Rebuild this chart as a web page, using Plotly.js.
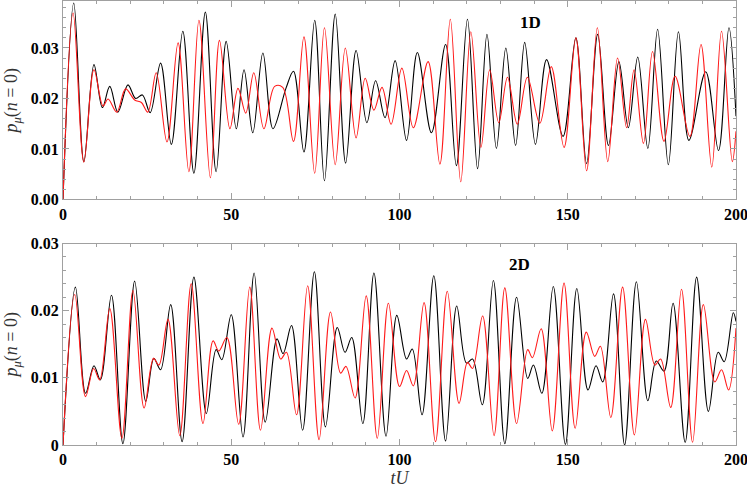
<!DOCTYPE html>
<html><head><meta charset="utf-8">
<script src="https://cdn.plot.ly/plotly-3.0.1.min.js"></script>
<style>html,body{margin:0;padding:0;background:#fff}</style>
</head><body><div id="chart" style="width:747px;height:500px"></div>
<script>
// ---- 1D panel ----
const t1DBlack = [0,3.2,6.2,9.2,11.7,13.9,16.3,19.3,21.6,23.6,25.9,29.0,32.2,35.6,38.9,42.3,45.5,48.5,51.5,53.8,56.4,59.4,62.4,66.3,68.5,71.6,74.8,77.7,80.9,84.0,87.1,90.3,92.9,95.7,98.7,102.1,105.3,109.5,113.7,116.9,120.2,123.2,126.0,128.8,131.6,134.5,137.2,140.4,143.7,148.6,152.4,155.6,158.9,162.1,165.2,168.0,170.8,173.8,176.7,179.9,182.9,186.0,191.0,194.8,197.9,200];
const p1DBlack = [0,0.0389,0.0075,0.0267,0.0182,0.0224,0.0173,0.0227,0.0200,0.0207,0.0172,0.0270,0.0109,0.0333,0.0052,0.0371,0.0055,0.0313,0.0140,0.0257,0.0132,0.0290,0.0140,0.0221,0.0254,0.0094,0.0355,0.0037,0.0367,0.0072,0.0295,0.0152,0.0235,0.0162,0.0275,0.0117,0.0291,0.0132,0.0307,0.0067,0.0357,0.0061,0.0327,0.0101,0.0300,0.0107,0.0311,0.0109,0.0277,0.0125,0.0320,0.0071,0.0327,0.0107,0.0273,0.0142,0.0282,0.0101,0.0337,0.0069,0.0332,0.0117,0.0253,0.0097,0.0340,0.0165];
const t1DRed = [0,3.0,6.2,9.2,11.9,13.4,16.0,18.6,21.3,23.3,25.2,27.7,30.9,34.2,37.4,40.4,43.8,46.5,49.6,52.0,54.3,56.7,59.7,62.9,65.3,68.5,71.6,74.8,77.7,80.9,83.9,87.1,89.8,92.4,94.8,97.5,100.7,104.1,108.5,112.0,115.1,118.2,121.2,124.2,126.8,129.5,132.1,135.0,138.0,141.7,145.1,148.9,152.4,155.6,158.8,161.9,164.8,167.5,169.7,172.5,175.2,178.6,181.9,186.3,189.6,192.8,195.7,198.9,200];
const p1DRed = [0,0.0369,0.0074,0.0257,0.0185,0.0199,0.0173,0.0219,0.0197,0.0192,0.0173,0.0251,0.0114,0.0310,0.0055,0.0355,0.0043,0.0315,0.0140,0.0220,0.0171,0.0251,0.0140,0.0224,0.0222,0.0115,0.0322,0.0052,0.0340,0.0069,0.0300,0.0122,0.0240,0.0177,0.0222,0.0149,0.0260,0.0142,0.0273,0.0070,0.0357,0.0035,0.0332,0.0103,0.0257,0.0152,0.0242,0.0149,0.0242,0.0151,0.0263,0.0103,0.0320,0.0057,0.0340,0.0075,0.0280,0.0142,0.0257,0.0111,0.0293,0.0115,0.0244,0.0125,0.0307,0.0064,0.0333,0.0075,0.0135];
// ---- 2D panel ----
const t2DBlack = [0,3.7,6.7,9.2,11.1,14.4,17.8,21.3,24.6,27.0,29.0,32.0,35.4,38.9,42.6,45.5,47.2,50.0,53.5,56.8,60.1,63.6,65.4,67.9,71.2,74.7,78.0,81.5,83.8,85.8,89.1,92.4,96.0,99.2,102.1,103.8,106.7,110.2,113.7,117.0,119.9,121.7,124.6,127.9,131.3,134.8,138.1,139.8,142.3,145.7,149.3,152.7,156.0,158.4,160.4,163.6,166.9,170.4,173.8,176.3,178.6,181.3,184.9,188.3,191.8,194.7,196.5,199.2,200];
const p2DBlack = [0,0.0235,0.0077,0.0118,0.0097,0.0223,0.0002,0.0244,0.0065,0.0129,0.0112,0.0209,0.0005,0.0250,0.0047,0.0142,0.0127,0.0194,0.0012,0.0256,0.0034,0.0158,0.0136,0.0178,0.0022,0.0258,0.0027,0.0175,0.0138,0.0160,0.0032,0.0256,0.0013,0.0193,0.0128,0.0143,0.0045,0.0252,0.0006,0.0207,0.0122,0.0128,0.0060,0.0245,0.0002,0.0220,0.0099,0.0119,0.0077,0.0236,0.0001,0.0233,0.0082,0.0118,0.0094,0.0225,0.0000,0.0243,0.0066,0.0125,0.0110,0.0211,0.0004,0.0250,0.0050,0.0138,0.0124,0.0197,0.0184];
const t2DRed = [0,3.5,6.7,9.1,10.9,13.9,17.5,20.8,24.1,26.9,28.5,31.2,34.7,38.1,41.6,44.6,46.3,48.7,52.2,55.5,58.7,62.1,64.7,66.4,69.4,72.7,76.1,79.5,82.5,84.1,86.8,90.1,93.4,96.7,100.0,102.1,104.1,107.3,110.7,114.2,117.7,120.2,121.7,124.7,128.1,131.3,134.8,138.1,139.5,142.1,145.4,148.9,152.2,155.5,158.0,159.7,162.8,166.3,169.8,173.1,175.9,177.6,180.6,183.8,187.1,190.3,193.7,195.7,197.8,200];
const p2DRed = [0,0.0224,0.0072,0.0114,0.0097,0.0203,0.0010,0.0230,0.0055,0.0129,0.0119,0.0187,0.0014,0.0240,0.0032,0.0155,0.0140,0.0160,0.0031,0.0235,0.0022,0.0174,0.0128,0.0138,0.0045,0.0237,0.0008,0.0198,0.0107,0.0117,0.0070,0.0222,0.0010,0.0211,0.0087,0.0111,0.0088,0.0212,0.0005,0.0229,0.0062,0.0123,0.0114,0.0192,0.0014,0.0234,0.0032,0.0142,0.0130,0.0173,0.0021,0.0241,0.0025,0.0168,0.0132,0.0147,0.0041,0.0235,0.0015,0.0187,0.0119,0.0128,0.0056,0.0232,0.0004,0.0209,0.0094,0.0112,0.0082,0.0174];
// ---- ticks and labels ----
const xTickVals = [0,50,100,150,200];
const xTickText = ['0','50','100','150','200'];
const yTickVals = [0,0.01,0.02,0.03];
const yTickText1D = ['0.00','0.01','0.02','0.03'];
const yTickText2D = ['0','0.01','0.02','0.03'];
const panelLabels = ['1D','2D'];
const yTitle = '<i>p</i><sub><i>μ</i></sub>(<i>n</i> = 0)';
const xTitle = '<i>tU</i>';

const serif = 'Liberation Serif, Times New Roman, serif';
function line(x, y, color, xa, ya) {
  return {x, y, xaxis: xa, yaxis: ya, type: 'scatter', mode: 'lines',
    line: {color, width: 1.1, shape: 'spline', smoothing: 1}, hoverinfo: 'skip', showlegend: false};
}
const data = [
  line(t1DBlack, p1DBlack, '#000', 'x', 'y'),
  line(t1DRed, p1DRed, '#ff1a1a', 'x', 'y'),
  line(t2DBlack, p2DBlack, '#000', 'x2', 'y2'),
  line(t2DRed, p2DRed, '#ff1a1a', 'x2', 'y2')
];
const tickFont = {family: serif, size: 16, color: '#000', weight: 'bold'};
function axis(extra) {
  return Object.assign({showgrid: false, zeroline: false, showline: true, linecolor: '#a0a0a0', linewidth: 1,
    mirror: 'allticks', ticks: 'inside', ticklen: 6, tickcolor: '#a0a0a0', tickwidth: 1,
    tickfont: tickFont, ticklabeloverflow: 'allow', fixedrange: true}, extra);
}
const layout = {
  width: 747, height: 500,
  margin: {l: 63, r: 11, t: 1, b: 55},
  paper_bgcolor: '#fff', plot_bgcolor: '#fff',
  xaxis: axis({domain: [0, 1], anchor: 'y', range: [0, 200], tickmode: 'array', tickvals: xTickVals, ticktext: xTickText,
    minor: {ticks: 'inside', dtick: 10, tick0: 0, ticklen: 3, tickcolor: '#a0a0a0'}}),
  yaxis: axis({domain: [0.553, 1], anchor: 'x', range: [0, 0.0393], tickmode: 'array', tickvals: yTickVals, ticktext: yTickText1D,
    minor: {ticks: 'inside', dtick: 0.002, tick0: 0, ticklen: 3, tickcolor: '#a0a0a0'},
    title: {text: yTitle, font: {family: serif, size: 18, color: '#333'}, standoff: 8}}),
  xaxis2: axis({domain: [0, 1], anchor: 'y2', range: [0, 200], tickmode: 'array', tickvals: xTickVals, ticktext: xTickText,
    minor: {ticks: 'inside', dtick: 10, tick0: 0, ticklen: 3, tickcolor: '#a0a0a0'},
    title: {text: xTitle, font: {family: serif, size: 18, color: '#333'}, standoff: 3}}),
  yaxis2: axis({domain: [0, 0.4538], anchor: 'x2', range: [0, 0.03], tickmode: 'array', tickvals: yTickVals, ticktext: yTickText2D,
    minor: {ticks: 'inside', dtick: 0.002, tick0: 0, ticklen: 3, tickcolor: '#a0a0a0'},
    title: {text: yTitle, font: {family: serif, size: 18, color: '#333'}, standoff: 8}}),
  annotations: [
    {text: panelLabels[0], xref: 'x', yref: 'y', x: 138.8, y: 0.035, showarrow: false, font: {family: serif, size: 17, color: '#000', weight: 'bold'}},
    {text: panelLabels[1], xref: 'x2', yref: 'y2', x: 135.8, y: 0.0269, showarrow: false, font: {family: serif, size: 17, color: '#000', weight: 'bold'}}
  ]
};
Plotly.newPlot('chart', data, layout, {displayModeBar: false, staticPlot: true});
</script></body></html>
